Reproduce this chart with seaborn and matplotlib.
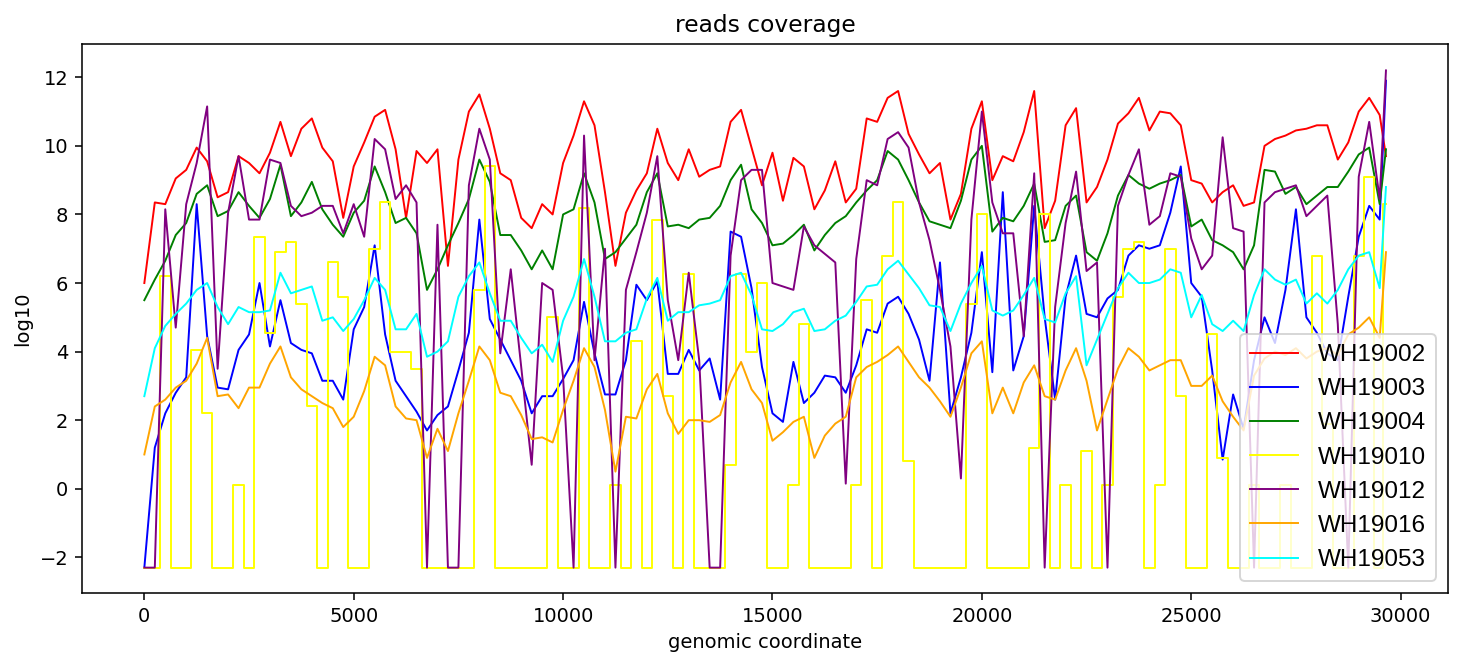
import matplotlib
matplotlib.use("Agg")
import matplotlib.pyplot as plt
import seaborn as sns

# genomic positions of the coverage samples (every 250 nt, last point at the genome end)
positions = list(range(0, 29501, 250)) + [29650]

samples = ["WH19002", "WH19003", "WH19004", "WH19010", "WH19012", "WH19016", "WH19053"]
colors = ["red", "blue", "green", "yellow", "purple", "orange", "cyan"]

wh19002 = [6.0, 8.35, 8.3, 9.05, 9.3, 9.95, 9.55, 8.5, 8.65, 9.7, 9.5, 9.2, 9.8, 10.7, 9.7, 10.5, 10.8, 9.95, 9.55, 7.9,
           9.4, 10.1, 10.85, 11.05, 9.9, 7.9, 9.85, 9.5, 9.9, 6.5, 9.6, 11.0, 11.5, 10.5, 9.2, 9.0, 7.9, 7.6, 8.3, 8.0,
           9.5, 10.3, 11.3, 10.6, 8.65, 6.5, 8.05, 8.7, 9.2, 10.5, 9.5, 9.0, 9.9, 9.1, 9.3, 9.4, 10.7, 11.05, 9.95, 8.85,
           9.8, 8.4, 9.65, 9.4, 8.15, 8.7, 9.55, 8.35, 8.75, 10.8, 10.7, 11.4, 11.6, 10.35, 9.75, 9.2, 9.5, 7.85, 8.6, 10.5,
           11.3, 9.0, 9.7, 9.55, 10.4, 11.6, 7.6, 8.4, 10.6, 11.1, 8.35, 8.8, 9.6, 10.65, 10.95, 11.4, 10.45, 11.0, 10.95, 10.6,
           9.0, 8.9, 8.35, 8.65, 8.85, 8.25, 8.35, 10.0, 10.2, 10.3, 10.45, 10.5, 10.6, 10.6, 9.6, 10.1, 11.0, 11.4, 10.9, 9.7]

wh19003 = [-2.3, 1.2, 2.2, 2.8, 3.25, 8.3, 4.45, 2.95, 2.9, 4.05, 4.5, 6.0, 4.15, 5.5, 4.25, 4.05, 3.95, 3.15, 3.15, 2.6,
           4.65, 5.3, 7.1, 4.5, 3.15, 2.7, 2.25, 1.7, 2.15, 2.4, 3.45, 4.55, 7.85, 4.95, 4.35, 3.75, 3.15, 2.2, 2.7, 2.7,
           3.2, 3.75, 5.45, 3.95, 2.75, 2.75, 3.75, 5.95, 5.5, 6.05, 3.35, 3.35, 4.05, 3.45, 3.8, 2.6, 7.5, 7.35, 5.85, 3.55,
           2.2, 1.95, 3.7, 2.5, 2.8, 3.3, 3.25, 2.8, 3.6, 4.65, 4.55, 5.4, 5.6, 5.1, 4.35, 3.15, 6.6, 2.2, 3.25, 4.55,
           6.9, 3.4, 8.65, 3.45, 4.45, 8.25, 5.0, 2.6, 5.6, 6.8, 5.1, 5.0, 5.55, 5.8, 6.8, 7.1, 7.0, 7.1, 8.05, 9.4,
           6.0, 5.6, 3.45, 0.85, 2.75, 1.75, 3.75, 5.0, 4.25, 5.8, 8.15, 5.0, 4.55, 3.95, 3.75, 5.6, 7.35, 8.25, 7.85, 11.9]

wh19004 = [5.5, 6.1, 6.65, 7.4, 7.75, 8.6, 8.85, 7.95, 8.1, 8.65, 8.25, 7.9, 8.45, 9.45, 7.95, 8.35, 8.95, 8.15, 7.7, 7.35,
           8.05, 8.4, 9.4, 8.65, 7.75, 7.9, 7.45, 5.8, 6.4, 7.1, 7.75, 8.45, 9.6, 8.95, 7.4, 7.4, 6.95, 6.4, 6.95, 6.4,
           8.0, 8.15, 9.2, 8.35, 6.7, 6.9, 7.3, 7.7, 8.65, 9.2, 7.65, 7.7, 7.6, 7.85, 7.9, 8.25, 9.0, 9.45, 8.15, 7.75,
           7.1, 7.15, 7.4, 7.7, 6.95, 7.4, 7.75, 7.95, 8.35, 8.7, 9.0, 9.85, 9.6, 9.0, 8.35, 7.8, 7.7, 7.6, 8.4, 9.6,
           10.0, 7.5, 7.9, 7.8, 8.25, 8.9, 7.2, 7.25, 8.25, 8.55, 6.9, 6.65, 7.45, 8.55, 9.15, 8.9, 8.75, 8.9, 9.0, 9.15,
           7.65, 7.85, 7.25, 7.1, 6.9, 6.4, 7.1, 9.3, 9.25, 8.6, 8.8, 8.3, 8.55, 8.8, 8.8, 9.25, 9.75, 9.95, 8.3, 9.9]

wh19010 = [-2.3, -2.3, 6.2, -2.3, -2.3, 4.05, 2.2, -2.3, -2.3, 0.1, -2.3, 7.35, 4.55, 6.9, 7.2, 5.4, 2.4, -2.3, 6.6, 5.6,
           -2.3, -2.3, 7.0, 8.35, 4.0, 4.0, 3.5, -2.3, -2.3, -2.3, -2.3, -2.3, 5.8, 9.4, -2.3, -2.3, -2.3, -2.3, -2.3, 5.0,
           -2.3, -2.3, 8.2, -2.3, -2.3, 0.1, -2.3, 4.3, -2.3, 7.85, 2.7, -2.3, 6.25, -2.3, -2.3, -2.3, 0.7, 6.25, 4.0, 6.0,
           -2.3, -2.3, 0.1, 4.8, -2.3, -2.3, -2.3, -2.3, 0.1, 5.5, -2.3, 6.8, 8.35, 0.8, -2.3, -2.3, -2.3, -2.3, -2.3, 5.4,
           8.0, -2.3, -2.3, -2.3, -2.3, 1.2, 8.0, -2.3, 0.1, -2.3, 1.1, -2.3, 0.1, 5.6, 7.0, 7.2, -2.3, 0.1, 7.0, 2.7,
           -2.3, -2.3, 4.5, 0.9, -2.3, -2.3, 0.1, -2.3, -2.3, 0.1, -2.3, -2.3, 6.8, 1.9, -2.3, -2.3, 6.8, 9.1, -2.3, 8.3]

wh19012 = [-2.3, -2.3, 8.15, 4.7, 8.3, 9.5, 11.15, 3.5, 8.05, 9.7, 7.85, 7.85, 9.6, 9.5, 8.25, 7.95, 8.05, 8.25, 8.25, 7.45,
           8.3, 7.35, 10.2, 9.9, 8.45, 8.85, 8.35, -2.3, 7.7, -2.3, -2.3, 8.85, 10.5, 9.6, 3.95, 6.4, 3.55, 0.7, 6.0, 5.8,
           3.25, -2.3, 10.3, 3.75, 7.0, -2.3, 5.8, 6.9, 8.05, 9.7, 5.5, 3.75, 6.3, 3.75, -2.3, -2.3, 6.8, 9.0, 9.3, 9.3,
           6.0, 5.9, 5.8, 7.65, 7.1, 6.85, 6.6, 0.15, 6.7, 9.0, 8.85, 10.2, 10.4, 9.95, 8.35, 7.25, 5.8, 4.15, 0.3, 7.85,
           11.0, 8.35, 7.45, 7.45, 4.45, 9.2, -2.3, 5.3, 7.75, 9.25, 6.35, 6.6, -2.3, 8.25, 9.15, 9.9, 7.7, 7.95, 9.2, 9.1,
           7.3, 6.4, 6.8, 10.25, 7.6, 7.5, -2.3, 8.35, 8.65, 8.75, 8.85, 7.95, 8.25, 8.55, 4.8, -2.3, 9.1, 10.7, 8.45, 12.2]

wh19016 = [1.0, 2.4, 2.6, 2.95, 3.15, 3.65, 4.4, 2.7, 2.75, 2.35, 2.95, 2.95, 3.65, 4.15, 3.25, 2.9, 2.7, 2.5, 2.35, 1.8,
           2.1, 2.85, 3.85, 3.6, 2.4, 2.05, 2.0, 0.9, 1.75, 1.1, 2.2, 3.15, 4.15, 3.75, 2.8, 2.7, 2.15, 1.45, 1.5, 1.35,
           2.3, 3.15, 4.1, 3.55, 2.3, 0.5, 2.1, 2.05, 2.9, 3.35, 2.2, 1.6, 2.0, 2.0, 1.95, 2.15, 3.1, 3.7, 2.9, 2.5,
           1.4, 1.65, 1.95, 2.1, 0.9, 1.55, 1.9, 2.1, 3.25, 3.55, 3.7, 3.9, 4.15, 3.7, 3.25, 2.95, 2.55, 2.1, 2.95, 3.95,
           4.3, 2.2, 2.95, 2.2, 3.1, 3.6, 2.7, 2.6, 3.45, 4.1, 3.15, 1.7, 2.6, 3.5, 4.1, 3.85, 3.45, 3.6, 3.75, 3.75,
           3.0, 3.0, 3.3, 2.55, 2.1, 1.7, 3.3, 3.8, 4.0, 3.9, 4.1, 3.8, 4.0, 4.1, 3.9, 4.5, 4.7, 5.0, 4.4, 6.9]

wh19053 = [2.7, 4.1, 4.75, 5.1, 5.4, 5.8, 6.0, 5.3, 4.8, 5.3, 5.15, 5.15, 5.2, 6.3, 5.7, 5.8, 5.9, 4.9, 5.0, 4.6,
           4.95, 5.5, 6.15, 5.8, 4.65, 4.65, 5.1, 3.85, 4.0, 4.3, 5.6, 6.2, 6.6, 5.7, 4.9, 4.9, 4.4, 3.95, 4.2, 3.7,
           4.9, 5.6, 6.7, 5.6, 4.3, 4.3, 4.55, 4.65, 5.55, 6.15, 4.9, 5.15, 5.15, 5.35, 5.4, 5.5, 6.2, 6.3, 5.65, 4.65,
           4.6, 4.8, 5.15, 5.25, 4.6, 4.65, 4.9, 5.05, 5.45, 5.9, 5.95, 6.4, 6.65, 6.25, 5.85, 5.35, 5.3, 4.6, 5.4, 6.0,
           6.5, 5.2, 5.05, 5.2, 5.65, 6.15, 4.95, 4.85, 5.7, 6.2, 3.6, 4.35, 5.1, 5.85, 6.3, 6.0, 6.0, 6.1, 6.4, 6.3,
           5.0, 5.65, 4.8, 4.6, 4.9, 4.6, 5.65, 6.4, 6.1, 5.95, 6.1, 5.4, 5.7, 5.4, 5.8, 6.4, 6.8, 6.9, 5.85, 8.8]

series = [wh19002, wh19003, wh19004, wh19010, wh19012, wh19016, wh19053]

fig, ax = plt.subplots(figsize=(1458 / 140, 660 / 140), dpi=140)
fig.subplots_adjust(left=0.0562, right=0.9931, bottom=0.1015, top=0.9333)

for name, vals, c in zip(samples, series, colors):
    # yellow sample is mostly blocky (drop-outs), draw it as steps
    style = "steps-mid" if name == "WH19010" else "default"
    sns.lineplot(x=positions, y=vals, color=c, label=name, linewidth=1.0,
                 drawstyle=style, ax=ax)

ax.set_xlim(-1490, 31130)
ax.set_ylim(-3.04, 12.97)
ax.set_title("reads coverage")
ax.set_xlabel("genomic coordinate")
ax.set_ylabel("log10")
ax.legend(loc="lower right", prop={"family": "Liberation Sans", "size": 12.5})

fig.savefig("out.png", dpi=140)
